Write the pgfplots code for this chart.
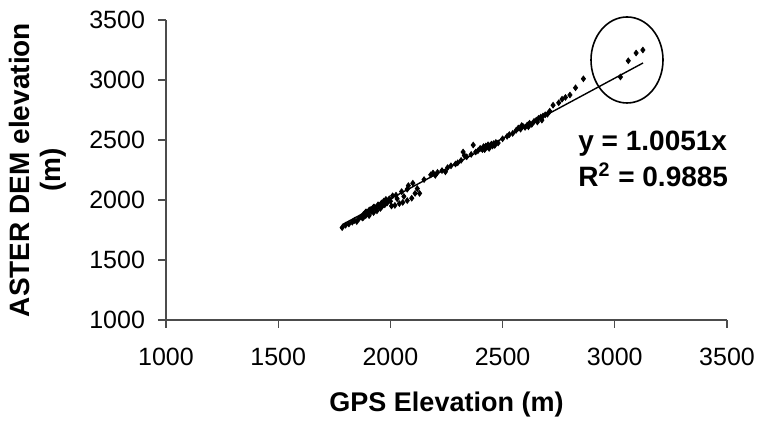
\documentclass[border=0pt]{standalone}
\usepackage{fontspec}
\setmainfont{Liberation Sans}
\usepackage{pgfplots}
\pgfplotsset{compat=1.18}
\begin{document}
\begin{tikzpicture}
\useasboundingbox (0,0) rectangle (379.5pt,210.5pt);
\begin{axis}[
  at={(83pt,50.5pt)}, anchor=origin,
  scale only axis, width=280.5pt, height=150pt,
  xmin=1000, xmax=3500, ymin=1000, ymax=3500,
  axis lines*=left,
  axis line style={black!70, line width=0.6pt},
  xtick={1000,1500,...,3500}, ytick={1000,1500,...,3500},
  tick align=outside, major tick length=4pt,
  tick style={black!70, line width=0.6pt},
  /pgf/number format/assume math mode=true,
  /pgf/number format/1000 sep={},
  ticklabel style={font=\fontsize{12.5}{14}\selectfont},
  xticklabel style={yshift=-6.5pt},
  yticklabel style={xshift=-3pt},
  xlabel={\textbf{GPS Elevation (m)}},
  ylabel={\textbf{ASTER DEM elevation}\\\textbf{(m)}},
  xlabel style={font=\fontsize{13.5}{15}\selectfont, at={(axis description cs:0.5,-0.283)}, anchor=center},
  ylabel style={font=\fontsize{14}{15.5}\selectfont, at={(axis description cs:-0.228,0.5)}, anchor=center, align=center},
  clip=false,
]
\addplot[only marks, mark=diamond*, mark size=1.4pt, black] coordinates {
(1785,1770)(1800,1790)(1815,1800)(1830,1815)(1840,1830)(1850,1820)
(1860,1845)(1870,1860)(1875,1850)(1880,1880)(1890,1870)(1895,1900)(1900,1890)(1905,1870)(1910,1920)(1915,1905)(1920,1930)(1925,1895)(1930,1940)(1935,1925)(1940,1910)(1945,1960)(1950,1945)(1955,1930)(1960,1975)(1965,1955)(1970,1990)(1975,1960)(1980,2005)(1985,1975)(1990,1995)(1995,2010)(2000,1990)(1890,1900)(1905,1915)(1925,1940)(1960,1940)(1880,1855)
(2005,1950)(2020,1955)(2040,1970)(2055,1980)(2075,1995)(2095,2015)(2110,2055)(2130,2055)(2120,2095)(2060,2030)(2030,2010)
(2010,2035)(2025,2040)(2050,2070)(2075,2090)(2100,2140)(2080,2120)(2150,2170)
(2180,2210)(2190,2225)(2200,2205)(2210,2230)(2230,2245)(2245,2235)(2255,2270)(2270,2285)(2290,2300)(2300,2310)(2315,2330)
(2330,2370)(2360,2380)(2380,2400)(2340,2360)(2324,2400)(2369,2458)
(2390,2410)(2400,2430)(2410,2420)(2415,2445)(2420,2435)(2425,2450)(2430,2440)(2435,2460)(2440,2445)(2445,2455)(2450,2465)(2455,2450)(2460,2470)(2465,2455)(2470,2480)(2480,2475)(2420,2420)(2440,2430)
(2500,2510)(2520,2530)(2530,2545)(2545,2555)(2560,2580)
(2570,2600)(2580,2590)(2590,2615)(2600,2605)(2610,2625)(2620,2640)(2630,2630)(2640,2655)(2650,2665)(2660,2680)(2670,2690)(2680,2700)(2690,2710)(2700,2715)(2585,2620)(2615,2610)(2655,2650)(2675,2665)
(2710,2740)(2725,2790)(2750,2810)(2765,2840)(2780,2855)(2800,2875)(2825,2935)(2860,3010)
(3025,3025)(3060,3160)(3095,3225)(3125,3250)
};
\addplot[black, line width=0.7pt] coordinates {(1785,1794)(3126,3142)};
\end{axis}
\draw[line width=0.8pt] (313.5pt,180.5pt) ellipse [x radius=18pt, y radius=21.5pt];
\node[anchor=west, inner sep=0pt, font=\fontsize{14}{15}\selectfont\bfseries] at (289pt,138.5pt) {y = 1.0051x};
\node[anchor=west, inner sep=0pt, font=\fontsize{14}{15}\selectfont\bfseries] at (289pt,123pt) {R\textsuperscript{2} = 0.9885};
\end{tikzpicture}
\end{document}
